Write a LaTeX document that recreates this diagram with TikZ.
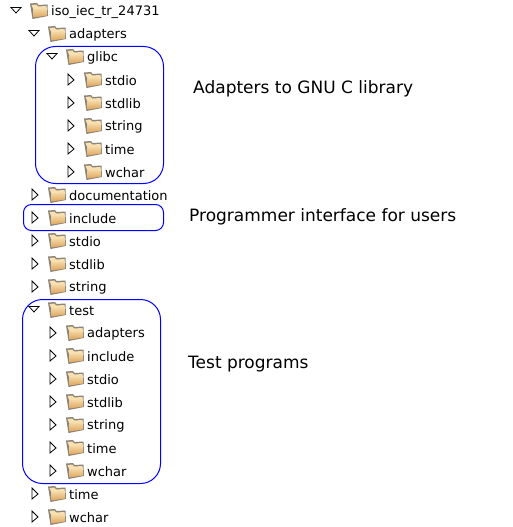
\documentclass[tikz,border=0pt]{standalone}
\usepackage{fontspec}
\setmainfont{DejaVu Sans}
\usetikzlibrary{positioning,shapes.geometric}

\definecolor{foldertop}{HTML}{F8E0B0}
\definecolor{folderlow}{HTML}{DDA45C}
\definecolor{folderrim}{HTML}{8C8478}

% one row of the tree: x of the arrow, y, open/shut, name, text
\newcommand{\treerow}[5]{
  \pic at (#1,#2) {#3};
  \pic at (#1+22,#2) {folder};
  \node[item] (#4) at (#1+34,#2+1) {#5};
}

\begin{document}
\begin{tikzpicture}[
    x=1pt, y=-1pt,
    item/.style={anchor=west, inner sep=0pt, font=\fontsize{13}{15}\selectfont},
    note/.style={anchor=west, inner sep=0pt, font=\fontsize{17}{20}\selectfont},
    groupbox/.style={draw=blue, line width=1pt},
    open/.pic={\draw[fill=white, line width=0.8pt] (-6,-3.5) -- (4,-3.5) -- (-1,2) -- cycle;},
    shut/.pic={\draw[fill=white, line width=0.8pt] (-3,-6) -- (-3,5) -- (3,0) -- cycle;},
    folder/.pic={
        \fill[folderrim] (-9,-7.5) -- (-2,-8) -- (-0.5,-6) -- (8.5,-6.5) -- (9,5) -- (-6.5,8) -- cycle;
        \fill[foldertop] (-7.5,-6) -- (-2.5,-6.5) -- (-1,-4.5) -- (7.5,-5) -- (7.5,-2) -- (-5,0) -- cycle;
        \shade[top color=foldertop, bottom color=folderlow] (-5.5,-1.5) -- (8,-3.5) -- (8,4.5) -- (-5.5,6.5) -- cycle;
    },
]
\useasboundingbox (0,0) rectangle (512,527);

% the tree
\treerow{17}{11}{open}{root}{iso\_iec\_tr\_24731}
\treerow{35}{34}{open}{adapters}{adapters}
\treerow{53}{57}{open}{glibc}{glibc}
\treerow{71}{80}{shut}{glibcstdio}{stdio}
\treerow{71}{103}{shut}{glibcstdlib}{stdlib}
\treerow{71}{126}{shut}{glibcstring}{string}
\treerow{71}{149}{shut}{glibctime}{time}
\treerow{71}{172}{shut}{glibcwchar}{wchar}
\treerow{35}{195}{shut}{documentation}{documentation}
\treerow{35}{218}{shut}{include}{include}
\treerow{35}{241}{shut}{stdio}{stdio}
\treerow{35}{264}{shut}{stdlib}{stdlib}
\treerow{35}{287}{shut}{string}{string}
\treerow{35}{310}{open}{test}{test}
\treerow{53}{333}{shut}{testadapters}{adapters}
\treerow{53}{356}{shut}{testinclude}{include}
\treerow{53}{379}{shut}{teststdio}{stdio}
\treerow{53}{402}{shut}{teststdlib}{stdlib}
\treerow{53}{425}{shut}{teststring}{string}
\treerow{53}{448}{shut}{testtime}{time}
\treerow{53}{471}{shut}{testwchar}{wchar}
\treerow{35}{494}{shut}{time}{time}
\treerow{35}{517}{shut}{wchar}{wchar}

% blue outlines
\draw[groupbox, rounded corners=20pt] (35.5,46.5) rectangle (163.5,183.5);
\draw[groupbox, rounded corners=8pt] (23.5,204.5) rectangle (163.5,230.5);
\draw[groupbox, rounded corners=20pt] (22.5,299.5) rectangle (160.5,483.5);

% what the outlines mean
\node[note] (adaptersnote) at (193,89) {Adapters to GNU C library};
\node[note] (includenote) at (189,217) {Programmer interface for users};
\node[note] (testnote) at (188,364) {Test programs};

\end{tikzpicture}
\end{document}
